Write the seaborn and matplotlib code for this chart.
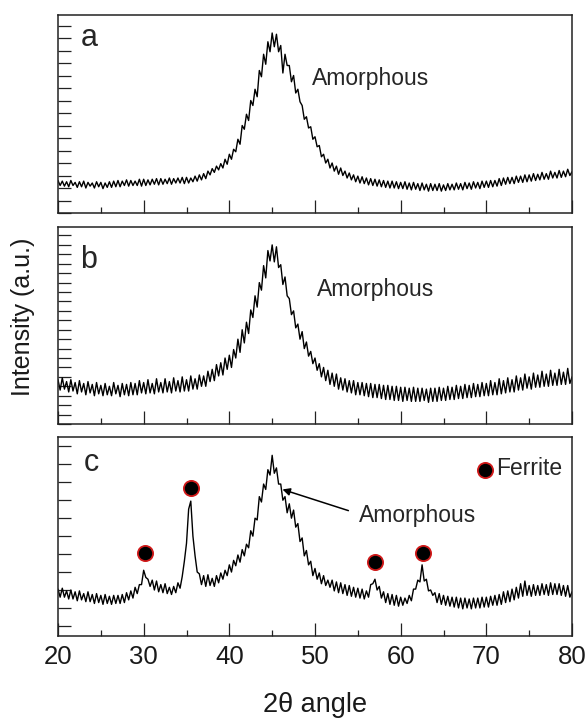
import numpy as np
import pandas as pd
import matplotlib
matplotlib.use("Agg")
import matplotlib.pyplot as plt
import seaborn as sns
from matplotlib.ticker import MultipleLocator

# ---------------- data ----------------
two_theta = [20 + 0.25 * i for i in range(241)]

intensity_a = [
    2.60, 2.20, 2.55, 2.15, 2.50, 2.10, 2.60, 2.20, 2.45, 2.05, 2.50, 2.10,
    2.55, 2.00, 2.45, 2.15, 2.40, 2.00, 2.50, 2.10, 2.45, 1.95, 2.40, 2.05,
    2.50, 2.05, 2.55, 2.10, 2.60, 2.10, 2.55, 2.20, 2.65, 2.15, 2.60, 2.20,
    2.55, 2.20, 2.70, 2.15, 2.70, 2.20, 2.65, 2.25, 2.70, 2.30, 2.75, 2.25,
    2.75, 2.30, 2.70, 2.35, 2.80, 2.30, 2.75, 2.40, 2.80, 2.40, 2.85, 2.35,
    2.85, 2.40, 2.80, 2.50, 2.95, 2.55, 3.05, 2.65, 3.15, 2.75, 3.35, 3.05,
    3.55, 3.25, 3.75, 3.45, 3.95, 3.60, 4.30, 3.90, 4.70, 4.30, 5.10, 4.90,
    5.90, 5.50, 7.00, 6.70, 7.90, 7.40, 9.00, 8.60, 9.90, 9.30, 11.4, 10.9,
    12.7, 11.9, 13.7, 12.9, 14.4, 13.3, 14.3, 12.9, 13.4, 11.2, 12.7, 11.8,
    11.8, 10.5, 11.0, 9.60, 9.90, 8.90, 8.60, 7.50, 7.70, 6.80, 6.90, 5.90,
    6.10, 5.30, 5.40, 4.50, 4.70, 4.00, 4.30, 3.60, 4.00, 3.35, 3.75, 3.10,
    3.60, 3.00, 3.35, 2.80, 3.20, 2.65, 3.05, 2.50, 2.95, 2.40, 2.90, 2.35,
    2.80, 2.25, 2.75, 2.20, 2.70, 2.15, 2.65, 2.10, 2.60, 2.05, 2.55, 2.00,
    2.55, 2.00, 2.50, 1.95, 2.45, 1.95, 2.50, 1.90, 2.40, 1.85, 2.45, 1.90,
    2.35, 1.80, 2.40, 1.85, 2.30, 1.75, 2.35, 1.80, 2.30, 1.80, 2.35, 1.75,
    2.25, 1.80, 2.35, 1.85, 2.30, 1.85, 2.40, 1.90, 2.35, 1.85, 2.45, 1.95,
    2.40, 1.90, 2.50, 2.00, 2.45, 1.95, 2.55, 2.05, 2.55, 2.05, 2.60, 2.10,
    2.60, 2.15, 2.75, 2.20, 2.80, 2.30, 2.85, 2.35, 2.85, 2.35, 2.95, 2.45,
    2.95, 2.45, 3.05, 2.50, 3.05, 2.55, 3.15, 2.60, 3.10, 2.65, 3.25, 2.70,
    3.15, 2.70, 3.35, 2.80, 3.25, 2.80, 3.40, 2.85, 3.35, 2.90, 3.50, 3.00,
    3.30,
]

intensity_b = [
    4.7, 3.6, 4.9, 3.7, 4.5, 3.4, 4.7, 3.5, 4.4, 3.2, 4.6, 3.4,
    4.3, 3.1, 4.5, 3.3, 4.2, 3.0, 4.4, 3.2, 4.1, 3.0, 4.3, 3.1,
    4.0, 3.0, 4.4, 3.2, 4.1, 2.9, 4.3, 3.1, 4.2, 3.0, 4.4, 3.1,
    4.3, 3.1, 4.6, 3.3, 4.4, 3.2, 4.7, 3.3, 4.3, 3.2, 4.8, 3.4,
    4.4, 3.3, 4.8, 3.4, 4.5, 3.3, 4.9, 3.5, 4.6, 3.4, 5.0, 3.5,
    4.7, 3.5, 5.1, 3.7, 4.8, 3.7, 5.2, 4.0, 5.1, 4.0, 5.6, 4.5,
    5.8, 4.6, 6.3, 5.1, 6.5, 5.2, 7.0, 5.8, 7.3, 6.0, 7.9, 7.0,
    9.0, 7.6, 10.0, 8.6, 10.8, 9.6, 12.1, 11.3, 13.6, 12.4, 15.0, 14.2,
    16.8, 15.5, 18.4, 17.3, 19.0, 17.2, 18.8, 16.6, 16.9, 14.8, 15.6, 13.6,
    13.3, 11.6, 12.0, 10.2, 10.6, 9.0, 9.8, 8.0, 8.7, 7.2, 7.7, 6.4,
    7.0, 5.7, 6.4, 5.0, 6.0, 4.6, 5.7, 4.2, 5.4, 4.0, 5.3, 3.7,
    4.9, 3.6, 4.8, 3.4, 4.6, 3.3, 4.6, 3.1, 4.4, 3.1, 4.4, 3.0,
    4.3, 2.9, 4.3, 2.8, 4.2, 2.8, 4.2, 2.7, 4.1, 2.6, 4.1, 2.6,
    4.0, 2.5, 4.0, 2.5, 3.9, 2.4, 3.9, 2.5, 3.8, 2.4, 3.9, 2.4,
    3.8, 2.4, 3.8, 2.5, 3.7, 2.3, 3.8, 2.4, 3.8, 2.4, 3.9, 2.5,
    3.8, 2.5, 4.0, 2.6, 3.9, 2.6, 4.1, 2.7, 4.0, 2.7, 4.2, 2.8,
    4.1, 2.8, 4.3, 2.9, 4.2, 2.9, 4.4, 3.0, 4.3, 3.0, 4.6, 3.1,
    4.4, 3.1, 4.8, 3.2, 4.6, 3.3, 4.9, 3.4, 4.7, 3.4, 5.1, 3.6,
    4.9, 3.6, 5.3, 3.8, 5.0, 3.7, 5.4, 3.9, 5.2, 3.9, 5.6, 4.0,
    5.3, 4.0, 5.7, 4.1, 5.4, 4.1, 5.8, 4.2, 5.5, 4.2, 5.9, 4.3,
    5.0,
]

intensity_c = [
    3.05, 2.60, 3.10, 2.60, 2.95, 2.50, 3.00, 2.50, 2.90, 2.40, 2.95, 2.45,
    2.80, 2.35, 2.90, 2.35, 2.75, 2.25, 2.80, 2.30, 2.70, 2.20, 2.75, 2.25,
    2.65, 2.20, 2.70, 2.25, 2.70, 2.25, 2.75, 2.30, 2.85, 2.45, 2.95, 2.55,
    3.15, 2.80, 3.30, 3.30, 4.10, 3.70, 3.60, 3.20, 3.55, 3.00, 3.50, 2.90,
    3.30, 2.85, 3.35, 2.80, 3.15, 2.75, 3.20, 2.85, 3.40, 3.10, 3.75, 4.60,
    5.60, 7.50, 7.95, 6.00, 4.90, 4.00, 3.90, 3.30, 3.80, 3.20, 3.85, 3.25,
    3.65, 3.20, 3.80, 3.40, 3.95, 3.60, 4.10, 3.80, 4.40, 4.00, 4.65, 4.35,
    4.95, 4.55, 5.25, 4.90, 5.55, 5.35, 6.30, 6.00, 7.00, 6.90, 8.20, 7.90,
    8.90, 8.60, 9.70, 9.40, 10.5, 9.50, 9.80, 8.90, 8.90, 8.00, 8.20, 7.30,
    7.80, 7.00, 7.45, 6.50, 6.70, 5.70, 5.90, 4.90, 5.20, 4.40, 4.60, 3.80,
    4.20, 3.60, 3.95, 3.35, 3.80, 3.25, 3.55, 3.15, 3.55, 2.95, 3.45, 2.85,
    3.40, 2.80, 3.30, 2.70, 3.25, 2.65, 3.15, 2.60, 3.10, 2.55, 3.05, 2.50,
    2.95, 2.60, 3.30, 3.35, 3.60, 3.00, 3.20, 2.55, 2.90, 2.30, 2.80, 2.20,
    2.75, 2.15, 2.70, 2.10, 2.60, 2.15, 2.55, 2.25, 2.70, 2.40, 3.05, 3.05,
    3.55, 3.45, 4.40, 3.50, 3.60, 2.95, 3.00, 2.70, 2.85, 2.30, 2.80, 2.20,
    2.70, 2.15, 2.65, 2.10, 2.60, 2.05, 2.60, 2.00, 2.55, 1.95, 2.55, 2.00,
    2.50, 1.95, 2.55, 2.00, 2.55, 2.00, 2.60, 2.05, 2.60, 2.05, 2.65, 2.15,
    2.70, 2.15, 2.75, 2.20, 2.90, 2.30, 2.95, 2.35, 3.05, 2.45, 3.15, 2.55,
    3.35, 2.65, 3.50, 2.70, 3.25, 2.65, 3.30, 2.70, 3.25, 2.70, 3.35, 2.75,
    3.30, 2.70, 3.40, 2.75, 3.35, 2.75, 3.35, 2.70, 3.25, 2.65, 3.25, 2.60,
    2.90,
]

ferrite_x = [30.15, 35.5, 57.0, 62.6]
ferrite_y = [5.08, 8.70, 4.58, 5.04]

panel_letters = ["a", "b", "c"]
x_ticks = [20, 30, 40, 50, 60, 70, 80]

# ---------------- figure ----------------
sns.set_theme(style="ticks")
plt.rcParams["font.family"] = ["Liberation Sans", "DejaVu Sans"]

fig = plt.figure(figsize=(5.86, 7.23), dpi=100)
L, W = 58 / 586, 514 / 586
ax_a = fig.add_axes([L, 1 - 213 / 723, W, 198 / 723])
ax_b = fig.add_axes([L, 1 - 424 / 723, W, 197 / 723])
ax_c = fig.add_axes([L, 1 - 635.7 / 723, W, 198.7 / 723])

df = pd.DataFrame({"x": two_theta, "a": intensity_a,
                   "b": intensity_b, "c": intensity_c})

ylims = {"a": (0, 15.84), "b": (0, 20.9), "c": (0.455, 11.52)}
for ax, key in zip([ax_a, ax_b, ax_c], panel_letters):
    sns.lineplot(data=df, x="x", y=key, ax=ax, color="black", lw=1.0,
                 estimator=None, sort=False)
    ax.set_xlim(20, 80)
    ax.set_ylim(*ylims[key])
    ax.xaxis.set_major_locator(MultipleLocator(10))
    ax.xaxis.set_minor_locator(MultipleLocator(5))
    ax.yaxis.set_major_locator(MultipleLocator(1))
    ax.tick_params(axis="both", which="both", direction="in",
                   top=False, right=False, width=0.9, color="#222222")
    ax.tick_params(axis="x", which="major", length=9.4)
    ax.tick_params(axis="x", which="minor", length=4.4)
    ax.tick_params(axis="y", which="major", length=9.4, labelleft=False)
    ax.set_ylabel("")
    ax.set_xlabel("")
    for s in ax.spines.values():
        s.set_linewidth(1.1)
        s.set_color("#222222")
    if ax is not ax_c:
        ax.tick_params(axis="x", labelbottom=False)

ax_c.set_xticks(x_ticks)
ax_c.tick_params(axis="x", labelsize=18.5, pad=7, labelcolor="#1a1a1a")
ax_c.set_xlabel("2\u03b8 angle", fontsize=19.5, labelpad=16, color="#1a1a1a")
fig.text(23 / 586, 1 - 317 / 723, "Intensity (a.u.)", rotation=90,
         ha="center", va="center", fontsize=18, color="#1a1a1a")

# panel letters
ax_a.text(22.6, 13.4, "a", fontsize=22, va="baseline", ha="left")
ax_b.text(22.6, 16.6, "b", fontsize=22, va="baseline", ha="left")
ax_c.text(23.0, 9.65, "c", fontsize=22, va="baseline", ha="left")

# annotations
ax_a.text(49.7, 10.2, "Amorphous", fontsize=16.5, va="baseline", ha="left")
ax_b.text(50.25, 13.6, "Amorphous", fontsize=16.5, va="baseline", ha="left")
ax_c.text(55.1, 6.79, "Amorphous", fontsize=16.5, va="baseline", ha="left")
ax_c.annotate("", xy=(46.2, 8.6), xytext=(53.9, 7.42),
              arrowprops=dict(arrowstyle="-|>", color="black", lw=1.1,
                              mutation_scale=11, shrinkA=0, shrinkB=0))

# ferrite markers
sns.scatterplot(x=ferrite_x, y=ferrite_y, ax=ax_c, s=120, color="black",
                edgecolor="#d11a1a", linewidth=1.3, zorder=5, legend=False)
ax_c.scatter([69.9], [9.67], s=120, color="black", edgecolor="#d11a1a",
             linewidth=1.3, zorder=5)
ax_c.text(71.1, 9.39, "Ferrite", fontsize=16.5, va="baseline", ha="left")

fig.savefig("out.png", dpi=100)
